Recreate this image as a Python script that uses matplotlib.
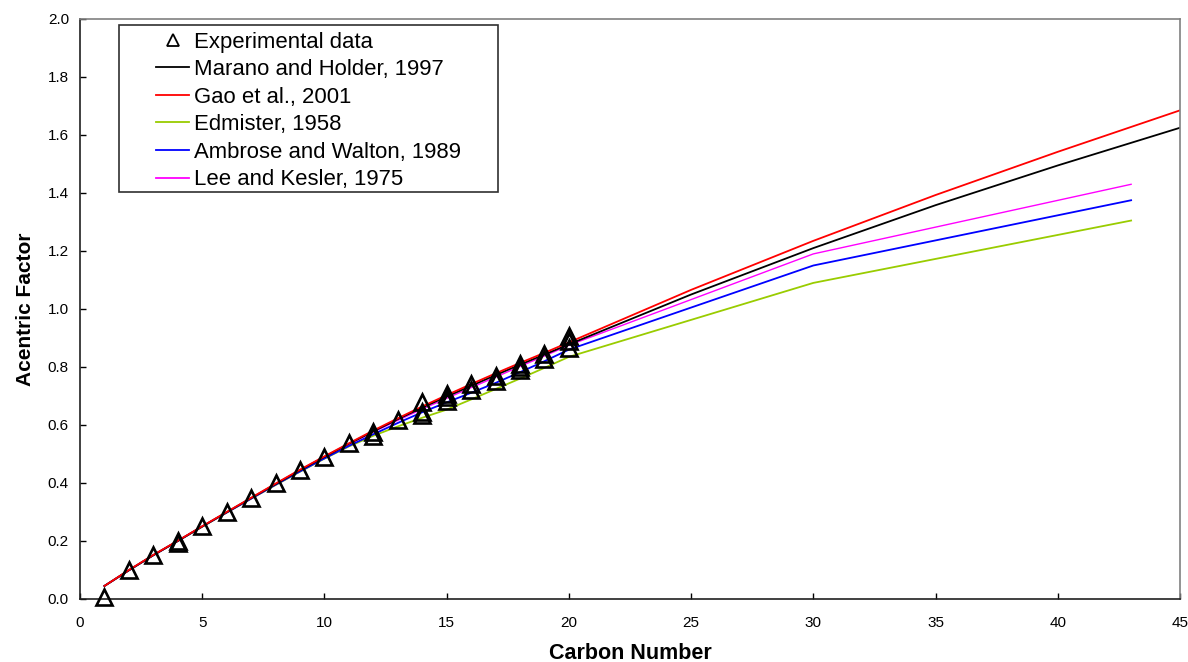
import matplotlib
matplotlib.use("Agg")
import matplotlib.pyplot as plt
from matplotlib.lines import Line2D
from matplotlib.patches import Rectangle

plt.rcParams['font.family'] = ['Liberation Sans', 'DejaVu Sans']

# Experimental data (carbon number, acentric factor)
exp_x = [1, 2, 3, 4, 4, 5, 6, 7, 8, 9, 10, 11, 12, 12, 13, 14, 14, 14,
         15, 15, 15, 16, 16, 17, 17, 18, 18, 18, 19, 19, 20, 20, 20]
exp_y = [0.008, 0.099, 0.152, 0.200, 0.193, 0.252, 0.300, 0.350, 0.399, 0.445,
         0.490, 0.537, 0.576, 0.562, 0.618, 0.679, 0.644, 0.635,
         0.706, 0.695, 0.682, 0.742, 0.720, 0.770, 0.753, 0.811, 0.800, 0.790,
         0.846, 0.827, 0.907, 0.890, 0.865]

cn_low = list(range(1, 21))

marano_x = cn_low + [25, 30, 35, 40, 45]
marano_y = [0.045, 0.099, 0.151, 0.200, 0.250, 0.299, 0.348, 0.396, 0.444, 0.490,
            0.535, 0.578, 0.620, 0.660, 0.698, 0.735, 0.772, 0.808, 0.843, 0.878,
            1.050, 1.210, 1.358, 1.495, 1.625]

gao_x = cn_low + [25, 30, 35, 40, 45]
gao_y = [0.045, 0.100, 0.152, 0.201, 0.251, 0.300, 0.349, 0.398, 0.446, 0.492,
         0.537, 0.581, 0.623, 0.664, 0.703, 0.741, 0.778, 0.814, 0.849, 0.885,
         1.066, 1.235, 1.393, 1.542, 1.685]

edm_x = cn_low + [30, 43]
edm_y = [0.045, 0.099, 0.151, 0.200, 0.249, 0.298, 0.346, 0.393, 0.439, 0.484,
         0.526, 0.563, 0.595, 0.625, 0.653, 0.688, 0.724, 0.760, 0.797, 0.835,
         1.090, 1.305]

amb_x = cn_low + [30, 43]
amb_y = [0.045, 0.099, 0.151, 0.200, 0.250, 0.298, 0.346, 0.394, 0.440, 0.485,
         0.528, 0.568, 0.607, 0.644, 0.678, 0.711, 0.745, 0.782, 0.820, 0.860,
         1.150, 1.375]

lk_x = cn_low + [30, 43]
lk_y = [0.045, 0.099, 0.151, 0.200, 0.250, 0.299, 0.348, 0.397, 0.445, 0.491,
         0.534, 0.576, 0.616, 0.655, 0.692, 0.729, 0.765, 0.802, 0.838, 0.875,
         1.190, 1.430]

x_ticks = [0, 5, 10, 15, 20, 25, 30, 35, 40, 45]
y_ticks = [0.0, 0.2, 0.4, 0.6, 0.8, 1.0, 1.2, 1.4, 1.6, 1.8, 2.0]

series_labels = ['Experimental data', 'Marano and Holder, 1997', 'Gao et al., 2001',
                 'Edmister, 1958', 'Ambrose and Walton, 1989', 'Lee and Kesler, 1975']
series_colors = [None, '#000000', '#ff0000', '#99cc00', '#0000ff', '#ff00ff']

W, H = 1188, 662
fig = plt.figure(figsize=(W / 100, H / 100), dpi=100)
ax = fig.add_axes([80 / W, (H - 599) / H, 1100 / W, 580 / H])

ax.plot(edm_x, edm_y, color='#99cc00', lw=1.3)
ax.plot(amb_x, amb_y, color='#0000ff', lw=1.3)
ax.plot(lk_x, lk_y, color='#ff00ff', lw=1.0)
ax.plot(marano_x, marano_y, color='#000000', lw=1.3)
ax.plot(gao_x, gao_y, color='#ff0000', lw=1.3)
ax.plot(exp_x, exp_y, linestyle='none', marker='^', markersize=11,
        markerfacecolor='none', markeredgecolor='black', markeredgewidth=1.9,
        zorder=5, clip_on=False)

ax.set_xlim(0, 45)
ax.set_ylim(0, 2.0)
ax.set_xticks(x_ticks)
ax.set_yticks(y_ticks)
ax.set_yticklabels([f"{v:.1f}" for v in y_ticks])
ax.tick_params(direction='in', length=4, labelsize=11, width=1)
ax.tick_params(axis='x', pad=12)
ax.tick_params(axis='y', pad=8)
for s in ['left', 'bottom']:
    ax.spines[s].set_color('#202020')
    ax.spines[s].set_linewidth(1.2)
for s in ['top', 'right']:
    ax.spines[s].set_color('#808080')
    ax.spines[s].set_linewidth(1.2)

ax.set_xlabel('Carbon Number', fontsize=15.5, fontweight='bold', labelpad=9.5)
ax.set_ylabel('Acentric Factor', fontsize=15, fontweight='bold', labelpad=9)

# Manual legend (pixel layout converted to figure fractions)
def fx(px):
    return px / W

def fy(py):
    return (H - py) / H

fig.add_artist(Rectangle((fx(119), fy(192)), fx(498) - fx(119), fy(24.5) - fy(192),
                         transform=fig.transFigure, facecolor='white',
                         edgecolor='#303030', lw=1.2, zorder=10))
row_y = [40, 67, 94.5, 122, 150, 177.5]
for i, (lab, col) in enumerate(zip(series_labels, series_colors)):
    yc = row_y[i]
    if col is None:
        fig.add_artist(Line2D([fx(173)], [fy(yc)], transform=fig.transFigure,
                              linestyle='none', marker='^', markersize=8,
                              markerfacecolor='none', markeredgecolor='black',
                              markeredgewidth=1.3, zorder=11))
    else:
        fig.add_artist(Line2D([fx(156), fx(189)], [fy(yc), fy(yc)],
                              transform=fig.transFigure, color=col, lw=1.3, zorder=11))
    fig.text(fx(193.5), fy(yc + 8), lab, fontsize=15.9, ha='left', va='baseline',
             zorder=12)

fig.savefig('out.png', dpi=100)
